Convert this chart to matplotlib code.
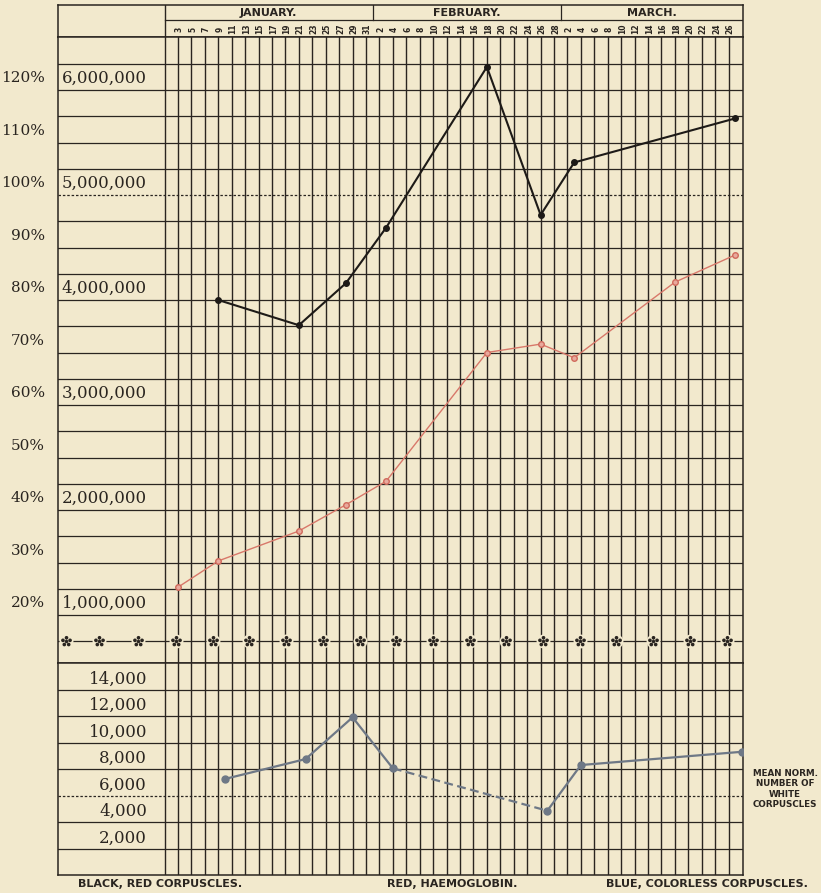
import numpy as np
import matplotlib.pyplot as plt
from matplotlib.path import Path

# --- Datos ---
# eje x: día del año (1 ene = 1, 1 feb = 32, 1 mar = 60)
meses = ["JANUARY.", "FEBRUARY.", "MARCH."]
mes_inicio = [1, 32, 60]
dias_ene = list(range(3, 32, 2))
dias_feb = list(range(2, 29, 2))
dias_mar = list(range(2, 27, 2))

# negro: glóbulos rojos
rojos_dia = [9, 21, 28, 34, 49, 57, 62, 86]
rojos_val = [4_000_000, 3_760_000, 4_160_000, 4_690_000,
             6_220_000, 4_810_000, 5_310_000, 5_730_000]

# rojo: hemoglobina (%), 100% = 5,000,000
hb_dia = [3, 9, 21, 28, 34, 49, 57, 62, 77, 86]
hb_val = [25.3, 30.3, 36.0, 41.0, 45.5, 70.0, 71.6, 69.0, 83.4, 88.6]

# azul: glóbulos blancos
blancos_dia = [10, 22, 29, 35, 58, 63, 87]
blancos_val = [7250, 8750, 11900, 8050, 4850, 8300, 9300]

# etiquetas de las escalas
pct_labels = [120, 110, 100, 90, 80, 70, 60, 50, 40, 30, 20]
millones = [6_000_000, 5_000_000, 4_000_000, 3_000_000, 2_000_000, 1_000_000]
blancos_ticks = [14000, 12000, 10000, 8000, 6000, 4000, 2000]

# --- Estilo ---
fondo = "#f2e9cd"
tinta = "#2a2520"
serif = "DejaVu Serif"
sans = "DejaVu Sans"

W, H = 821, 893
X0, X1 = -14.87, 87.14

def caja(x0, y0, x1, y1):
    # pixeles -> fracción de figura
    return [x0 / W, 1 - y1 / H, (x1 - x0) / W, (y1 - y0) / H]

fig = plt.figure(figsize=(W / 100, H / 100), dpi=100, facecolor=fondo)
ax_h = fig.add_axes(caja(58, 5, 743, 37))
ax_s = fig.add_axes(caja(58, 37, 743, 663))
ax_i = fig.add_axes(caja(58, 663, 743, 875))
for ax in (ax_h, ax_s, ax_i):
    ax.set_xlim(X0, X1)
    ax.set_facecolor(fondo)
    ax.set_xticks([])
    ax.set_yticks([])
    for s in ax.spines.values():
        s.set_color(tinta)
        s.set_linewidth(1.1)

lineas = dias_ene + [31 + d for d in dias_feb] + [59 + d for d in dias_mar]
etiquetas = dias_ene + dias_feb + dias_mar

# --- Cabecera ---
ax_h.set_ylim(0, 1)
ax_h.axvline(1, color=tinta, lw=1)
ax_h.plot([1, X1], [0.53, 0.53], color=tinta, lw=0.9)
for m, ini, fin in zip(meses, mes_inicio, mes_inicio[1:] + [X1]):
    if ini > 1:
        ax_h.plot([ini, ini], [0.53, 1], color=tinta, lw=0.9)
    ax_h.text((ini + fin) / 2, 0.76, m, ha="center", va="center",
              fontsize=8, fontweight="bold", family=sans, color=tinta)
for d, lab in zip(lineas, etiquetas):
    ax_h.text(d + 0.2, 0.25, str(lab), rotation=90, ha="center", va="center",
              fontsize=5.5, fontweight="bold", family=sans, color=tinta)

# --- Sección superior (rojos / hemoglobina) ---
ax_s.set_ylim(0.543, 6.505)
for y in np.arange(1.0, 6.5, 0.25):
    ls = (0, (2, 1.5)) if y == 5.0 else "-"
    ax_s.axhline(y, color=tinta, lw=0.9, ls=ls)
ax_s.axhline(0.75, color=tinta, lw=0.9)
for d in [1] + lineas:
    ax_s.axvline(d, color=tinta, lw=1.0)

# fila de estrellas
circs = [Path.circle((0, 0), 0.28)]
for k in range(5):
    a = np.pi / 2 + 2 * np.pi * k / 5
    circs.append(Path.circle((np.cos(a), np.sin(a)), 0.3))
flor = Path.make_compound_path(*circs)
estrellas_x = [-13.7, -8.8, -3.0] + list(np.linspace(2.7, 84.7, 16))
ax_s.plot(estrellas_x, [0.75] * len(estrellas_x), ls="none", marker="o",
          ms=10, mfc=fondo, mec="none", zorder=3)
ax_s.plot(estrellas_x, [0.75] * len(estrellas_x), ls="none", marker=flor,
          ms=7, color=tinta, zorder=4)

for p in pct_labels:
    ax_s.text(-16.8, p / 20 + 0.11, f"{p}%", ha="right", va="center",
              fontsize=11, family=serif, color=tinta, clip_on=False)
for v in millones:
    ax_s.text(-14.3, v / 1e6 + 0.11, f"{v:,}", ha="left", va="center",
              fontsize=12, family=serif, color=tinta)

ax_s.plot(rojos_dia, np.array(rojos_val) / 1e6, color="#1d1a17", lw=1.5,
          marker="o", ms=4, zorder=5)
ax_s.plot(hb_dia, np.array(hb_val) / 20, color="#d8786a", lw=1.0,
          marker="o", ms=4, mfc="#e9a99c", mec="#d06a5c", zorder=5)

# --- Sección inferior (blancos) ---
ax_i.set_ylim(0, 16000)
for y in range(2000, 16000, 2000):
    ls = (0, (2, 1.5)) if y == 6000 else "-"
    ax_i.axhline(y, color=tinta, lw=0.9, ls=ls)
for d in [1] + lineas:
    ax_i.axvline(d, color=tinta, lw=1.0)
for v in blancos_ticks:
    ax_i.text(-1.6, v + 800, f"{v:,}", ha="right", va="center",
              fontsize=12, family=serif, color=tinta)

azul = "#6e7886"
ax_i.plot(blancos_dia[:4], blancos_val[:4], color=azul, lw=1.6,
          marker="o", ms=5, zorder=5)
ax_i.plot(blancos_dia[3:5], blancos_val[3:5], color=azul, lw=1.6,
          ls=(0, (4, 2)), zorder=5)
ax_i.plot(blancos_dia[4:], blancos_val[4:], color=azul, lw=1.6,
          marker="o", ms=5, zorder=5)

# --- Leyendas de texto ---
yb = 1 - 884 / H
fig.text(160 / W, yb, "BLACK, RED CORPUSCLES.", ha="center", va="center",
         fontsize=8, fontweight="bold", family=sans, color=tinta)
fig.text(452 / W, yb, "RED, HAEMOGLOBIN.", ha="center", va="center",
         fontsize=8, fontweight="bold", family=sans, color=tinta)
fig.text(707 / W, yb, "BLUE, COLORLESS CORPUSCLES.", ha="center", va="center",
         fontsize=8, fontweight="bold", family=sans, color=tinta)
fig.text(785 / W, 1 - 789 / H, "MEAN NORM.\nNUMBER OF\nWHITE\nCORPUSCLES",
         ha="center", va="center", fontsize=6.3, fontweight="bold",
         family=sans, color=tinta, linespacing=1.15)

fig.savefig("out.png", dpi=100, facecolor=fondo)
